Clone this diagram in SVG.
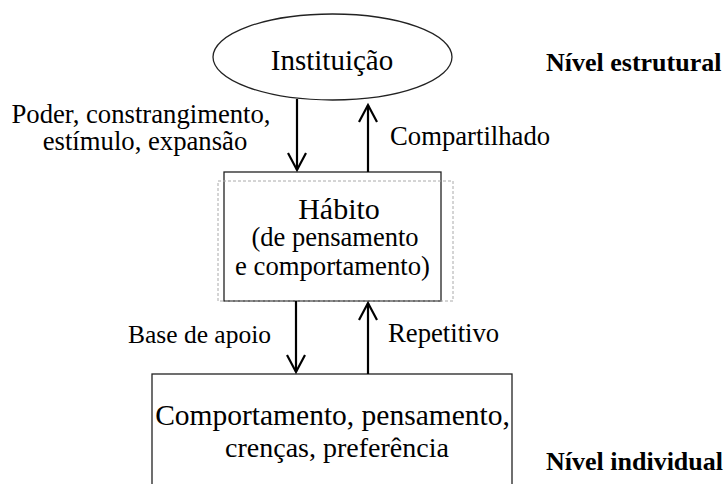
<svg xmlns="http://www.w3.org/2000/svg" width="727" height="484" viewBox="0 0 727 484">
<style>
text{font-family:"Liberation Serif","Times New Roman",serif;fill:#000}
.node{fill:#fff;stroke:#222;stroke-width:1.3}
.lbl{font-size:26.7px}
.lvl{font-size:26px;font-weight:bold}
.conn{stroke:#000;stroke-width:2.2;fill:none;marker-end:url(#ah)}
</style>
<defs>
<marker id="ah" markerUnits="userSpaceOnUse" refX="0" refY="0" orient="auto" overflow="visible" markerWidth="20" markerHeight="20">
<path d="M-17,-9 L0,0 L-17,9" fill="none" stroke="#000" stroke-width="2.2"/>
</marker>
</defs>
<rect width="727" height="484" fill="#fff"/>
<g id="instituicao">
<ellipse class="node" cx="332.5" cy="57" rx="119.5" ry="43"/>
<text x="332" y="70" font-size="29" text-anchor="middle">Instituição</text>
</g>
<g id="habito">
<rect class="node" x="224" y="172" width="217" height="129"/>
<rect x="218" y="181" width="235" height="120" fill="none" stroke="#aaa" stroke-width="1" stroke-dasharray="3,2"/>
<text x="339" y="219" font-size="30" text-anchor="middle">Hábito</text>
<text x="335" y="246" font-size="26.5" text-anchor="middle">(de pensamento</text>
<text x="332.5" y="275" font-size="26.7" text-anchor="middle">e comportamento)</text>
</g>
<g id="comportamento">
<rect class="node" x="152" y="374" width="360" height="125"/>
<text x="332.5" y="425" font-size="29.5" text-anchor="middle">Comportamento, pensamento,</text>
<text x="337" y="457" font-size="28" text-anchor="middle">crenças, preferência</text>
</g>
<g id="nivel-estrutural">
<text class="lvl" x="546" y="71">Nível estrutural</text>
</g>
<g id="nivel-individual">
<text class="lvl" x="546" y="470">Nível individual</text>
</g>
<g id="connectors">
<line class="conn" x1="297" y1="99" x2="297" y2="170"/>
<line class="conn" x1="368" y1="172" x2="368" y2="105"/>
<line class="conn" x1="296" y1="301" x2="296" y2="372"/>
<line class="conn" x1="368" y1="374" x2="368" y2="303"/>
<text class="lbl" text-anchor="middle"><tspan x="141" y="123">Poder, constrangimento,</tspan><tspan x="145" y="149.5">estímulo, expansão</tspan></text>
<text class="lbl" x="390" y="145">Compartilhado</text>
<text x="271" y="343" font-size="25.5" text-anchor="end">Base de apoio</text>
<text class="lbl" x="388" y="342">Repetitivo</text>
</g>
</svg>
